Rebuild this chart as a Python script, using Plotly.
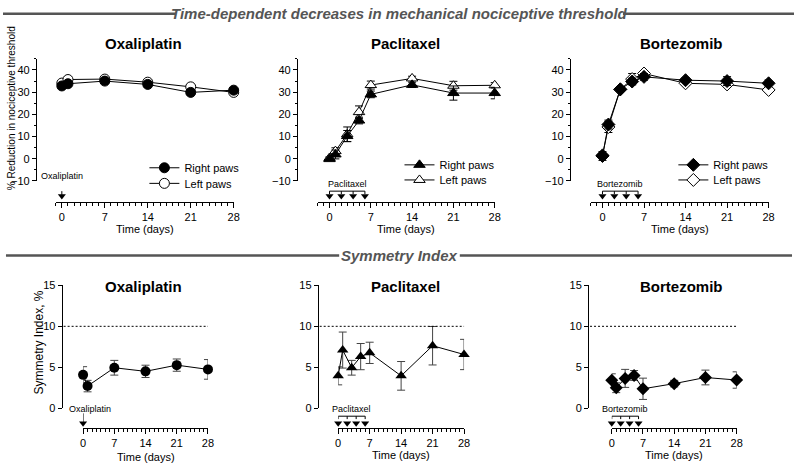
import plotly.graph_objects as go

W, H = 800, 471
def fx(px): return px / W
def fy(py): return 1 - py / H

FONT = "Liberation Sans, Arial, Helvetica, sans-serif"

# ---------------- data ----------------
ox_days = [0, 1, 7, 14, 21, 28]
pac_days = [0, 1, 3, 5, 7, 14, 21, 28]
bor_days = [0, 1, 3, 5, 7, 14, 21, 28]

# % reduction in nociceptive threshold
ox_right = [32.8, 33.8, 35.0, 33.5, 29.9, 30.9]
ox_right_err = [1.0, 1.0, 1.0, 1.0, 1.0, 1.0]
ox_left = [34.1, 35.7, 35.9, 34.5, 32.4, 29.9]
ox_left_err = [1.0, 1.0, 1.0, 1.0, 1.0, 1.0]

pac_right = [-0.2, 1.9, 10.2, 17.2, 29.0, 33.3, 29.6, 29.6]
pac_right_err = [0.5, 2.0, 2.5, 1.5, 1.5, 1.2, 3.2, 2.6]
pac_left = [0.3, 3.4, 11.0, 21.0, 33.2, 36.2, 32.9, 33.1]
pac_left_err = [0.5, 1.5, 3.3, 2.8, 1.8, 1.0, 2.0, 1.2]

bor_right = [1.2, 15.4, 31.3, 34.8, 36.9, 35.4, 35.0, 34.0]
bor_right_err = [2.0, 2.0, 0.8, 1.5, 1.5, 1.0, 2.0, 1.5]
bor_left = [1.5, 14.3, 31.2, 35.9, 38.4, 34.0, 33.5, 31.0]
bor_left_err = [1.0, 2.5, 0.8, 2.5, 1.0, 1.0, 1.0, 1.0]

# Symmetry index, %
ox_si = [4.07, 2.7, 4.94, 4.5, 5.26, 4.74]
ox_si_err = [1.0, 0.7, 0.9, 0.75, 0.75, 1.2]
pac_si = [3.95, 7.1, 4.94, 6.3, 6.76, 3.95, 7.63, 6.56]
pac_si_err = [1.1, 2.2, 0.9, 1.6, 1.3, 1.75, 2.35, 1.85]
bor_si = [3.4, 2.5, 3.64, 4.0, 2.37, 3.0, 3.75, 3.44]
bor_si_err = [0.8, 0.6, 1.1, 0.6, 1.3, 0.4, 0.9, 1.0]

# dosing days
ox_dose = [0]
pac_dose = [0, 2, 4, 6]
bor_dose = [0, 2, 4, 6]

drugs = ["Oxaliplatin", "Paclitaxel", "Bortezomib"]
x_ticks = [0, 7, 14, 21, 28]
top_y_ticks = [-10, 0, 10, 20, 30, 40]
bot_y_ticks = [0, 5, 10, 15]
si_threshold = 10
legend_labels = ["Right paws", "Left paws"]

# ---------------- layout geometry ----------------
top_panels = [  # (yaxis x px, x domain px, x range)
    (33.3, (53.3, 233.3), [-1, 28]),
    (297.3, (318.3, 497.3), [-2, 28]),
    (573.3, (594.3, 774.3), [-2, 28]),
]
bot_panels = [
    (59.3, (81.0, 207.3), [0, 28]),
    (318.3, (339.0, 466.3), [0, 28]),
    (591.7, (615.7, 742.0), [0, 28]),
]
TOP_Y_DOM = (179.4, 54.3)
TOP_X_POS = 201.0
BOT_Y_DOM = (412.7, 286.7)
BOT_X_POS = 432.7
TOP_AUX = (200.0, 165.0)
BOT_AUX = (432.0, 405.0)
# legend rows: (x px of legend box, y px of Right row, y px of Left row)
LEGEND_POS = [(143, 166, 182), (401, 163, 178.5), (678, 163, 178.5)]

fig = go.Figure()
layout = dict(
    width=W, height=H, autosize=False,
    margin=dict(l=0, r=0, t=0, b=0),
    paper_bgcolor="white", plot_bgcolor="white",
    font=dict(family=FONT, size=11, color="black"),
    showlegend=True,
)

def ax(i):
    return "" if i == 1 else str(i)

axis_common = dict(showgrid=False, zeroline=False, showline=True, linecolor="black",
                   linewidth=1, ticks="outside", tickcolor="black", tickwidth=1,
                   tickfont=dict(size=11, family=FONT))

for k, (ypx, xd, xr) in enumerate(top_panels + bot_panels):
    i = k + 1
    top = k < 3
    ydom = TOP_Y_DOM if top else BOT_Y_DOM
    layout["xaxis" + ax(i)] = dict(
        axis_common, domain=[fx(xd[0]), fx(xd[1])], range=xr, anchor="free",
        position=fy(TOP_X_POS if top else BOT_X_POS),
        tickvals=x_ticks, ticklen=5,
        minor=dict(dtick=1, tick0=0, ticks="outside", ticklen=3, tickcolor="black", tickwidth=1),
    )
    ydict = dict(
        axis_common, domain=[fy(ydom[0]), fy(ydom[1])], anchor="free", position=fx(ypx),
        ticklen=4,
    )
    if top:
        ydict.update(range=[-10, 45], tickvals=top_y_ticks,
                     minor=dict(dtick=5, tick0=0, ticks="outside", ticklen=2, tickcolor="black"))
    else:
        ydict.update(range=[0, 15], tickvals=bot_y_ticks)
    layout["yaxis" + ax(i)] = ydict
    aux = TOP_AUX if top else BOT_AUX
    layout["yaxis" + str(i + 6)] = dict(domain=[fy(aux[0]), fy(aux[1])], range=[0, 1],
                                        anchor="x" + ax(i), visible=False, fixedrange=True)

# ---------------- top panels traces ----------------
top_data = [
    (ox_days, ox_right, ox_right_err, ox_left, ox_left_err, "circle"),
    (pac_days, pac_right, pac_right_err, pac_left, pac_left_err, "triangle-up"),
    (bor_days, bor_right, bor_right_err, bor_left, bor_left_err, "diamond"),
]
for k, (d, r, re, l, le, sym) in enumerate(top_data):
    i = k + 1
    lx, ry, ly = LEGEND_POS[k]
    for label, vals, err, fill, row_y, lg in [
            (legend_labels[1], l, le, "white", ly, "legend%d" % (2 * k + 2)),
            (legend_labels[0], r, re, "black", ry, "legend%d" % (2 * k + 1) if k else "legend")]:
        fig.add_trace(go.Scatter(
            x=d, y=vals, mode="lines+markers", name=label,
            xaxis="x" + ax(i), yaxis="y" + ax(i), legend=lg,
            line=dict(color="black", width=1),
            marker=dict(symbol=sym, size=10, color=fill, line=dict(color="black", width=1)),
            error_y=dict(type="data", array=err, color="black", thickness=1, width=4),
            cliponaxis=False,
        ))
        layout[lg] = dict(x=fx(lx), y=fy(row_y), xanchor="left", yanchor="middle",
                          bgcolor="rgba(0,0,0,0)", font=dict(size=11, family=FONT),
                          tracegroupgap=0, itemwidth=30)

# ---------------- bottom panels traces ----------------
bot_data = [(ox_days, ox_si, ox_si_err, "circle"),
            (pac_days, pac_si, pac_si_err, "triangle-up"),
            (bor_days, bor_si, bor_si_err, "diamond")]
for k, (d, v, e, sym) in enumerate(bot_data):
    i = k + 4
    fig.add_trace(go.Scatter(
        x=d, y=v, mode="lines+markers", showlegend=False,
        xaxis="x" + ax(i), yaxis="y" + ax(i),
        line=dict(color="black", width=1),
        marker=dict(symbol=sym, size=10, color="black"),
        error_y=dict(type="data", array=e, color="#444", thickness=1, width=4),
        cliponaxis=False,
    ))

# ---------------- dosing marks ----------------
dose_sets = [ox_dose, pac_dose, bor_dose]
top_levels = dict(text=0.486, arrow_top=0.486, bracket=0.286, vt=0.2, tri=0.143)
bot_levels = dict(text=0.70, arrow_top=0.52, bracket=0.41, vt=0.30, tri=0.14)
annotations = []
for k in range(6):
    i = k + 1
    doses = dose_sets[k % 3]
    lv = top_levels if k < 3 else bot_levels
    xa = "x" + ax(i)
    ya = "y" + str(i + 6)
    if len(doses) == 1:
        xs = [doses[0], doses[0]]
        ys = [lv["text"] - 0.2 if k < 3 else lv["arrow_top"], lv["tri"]]
        text_y = lv["text"] + (0.23 if k < 3 else 0)
    else:
        xs, ys = [], []
        xs += [doses[0], doses[0], doses[-1], doses[-1], None]
        ys += [lv["vt"], lv["bracket"], lv["bracket"], lv["vt"], None]
        for dd in doses[1:-1]:
            xs += [dd, dd, None]
            ys += [lv["bracket"], lv["vt"], None]
        text_y = lv["text"]
    fig.add_trace(go.Scatter(x=xs, y=ys, mode="lines", showlegend=False, xaxis=xa, yaxis=ya,
                             line=dict(color="black", width=1), cliponaxis=False, hoverinfo="skip"))
    fig.add_trace(go.Scatter(x=doses, y=[lv["tri"]] * len(doses), mode="markers", showlegend=False,
                             xaxis=xa, yaxis=ya, cliponaxis=False, hoverinfo="skip",
                             marker=dict(symbol="triangle-down", size=7, color="black")))
    name = drugs[k % 3]
    if len(doses) == 1 and k >= 3:
        annotations.append(dict(x=doses[0], y=text_y, xref=xa, yref=ya, text=name, showarrow=False,
                                xanchor="left", xshift=-16, font=dict(size=9, family=FONT)))
    else:
        xc = (doses[0] + doses[-1]) / 2
        annotations.append(dict(x=xc, y=text_y, xref=xa, yref=ya, text=name, showarrow=False,
                                xanchor="center", font=dict(size=9, family=FONT)))

# ---------------- titles and labels ----------------
title_pos_top = [141.7, 406.7, 685.8]
for k in range(3):
    annotations.append(dict(x=fx(title_pos_top[k]), y=fy(38.5), xref="paper", yref="paper",
                            text="<b>%s</b>" % drugs[k], showarrow=False,
                            font=dict(size=15, family=FONT), xanchor="center", yanchor="middle"))
    annotations.append(dict(x=fx(title_pos_top[k]), y=fy(288), xref="paper", yref="paper",
                            text="<b>%s</b>" % drugs[k], showarrow=False,
                            font=dict(size=15, family=FONT), xanchor="center", yanchor="middle"))
    for (ypx, xd, xr), ty in [(top_panels[k], 228.5), (bot_panels[k], 463 if k == 0 else 460.5)]:
        annotations.append(dict(x=fx((xd[0] + xd[1]) / 2), y=fy(ty), xref="paper", yref="paper",
                                text="Time (days)", showarrow=False, font=dict(size=11, family=FONT),
                                xanchor="center", yanchor="middle"))

annotations.append(dict(x=fx(8), y=fy(105), xref="paper", yref="paper", textangle=-90,
                        text="% Reduction in nociceptive threshold", showarrow=False,
                        font=dict(size=10, family=FONT), xanchor="center", yanchor="middle"))
annotations.append(dict(x=fx(36.7), y=fy(345), xref="paper", yref="paper", textangle=-90,
                        text="Symmetry Index, %", showarrow=False,
                        font=dict(size=12, family=FONT), xanchor="center", yanchor="middle"))

HDR = "#555555"
annotations.append(dict(x=fx(401), y=fy(8), xref="paper", yref="paper",
                        text="<b><i>Time-dependent decreases in mechanical nociceptive threshold</i></b>",
                        showarrow=False, font=dict(size=15, family=FONT, color=HDR),
                        xanchor="center", yanchor="middle"))
annotations.append(dict(x=fx(401), y=fy(256), xref="paper", yref="paper",
                        text="<b><i>Symmetry Index</i></b>",
                        showarrow=False, font=dict(size=15, family=FONT, color=HDR),
                        xanchor="center", yanchor="middle"))

shapes = []
for x0, x1, yy in [(0, 175, 8), (627, 800, 8), (3, 340, 256), (462, 798, 256)]:
    shapes.append(dict(type="line", xref="paper", yref="paper", x0=fx(x0), x1=fx(x1),
                       y0=fy(yy), y1=fy(yy), line=dict(color=HDR, width=2.5)))
# threshold dotted lines
for k in range(3):
    i = k + 4
    ypx, xd, xr = bot_panels[k]
    shapes.append(dict(type="line", xref="paper", yref="y" + ax(i), x0=fx(ypx + 2), x1=fx(xd[1]),
                       y0=si_threshold, y1=si_threshold, line=dict(color="black", width=1, dash="2px,2px")))

layout["annotations"] = annotations
layout["shapes"] = shapes
fig.update_layout(**layout)
fig.write_html("out.html", config={"displayModeBar": False},
               post_script="document.body.style.margin='0';document.body.style.padding='0';")
